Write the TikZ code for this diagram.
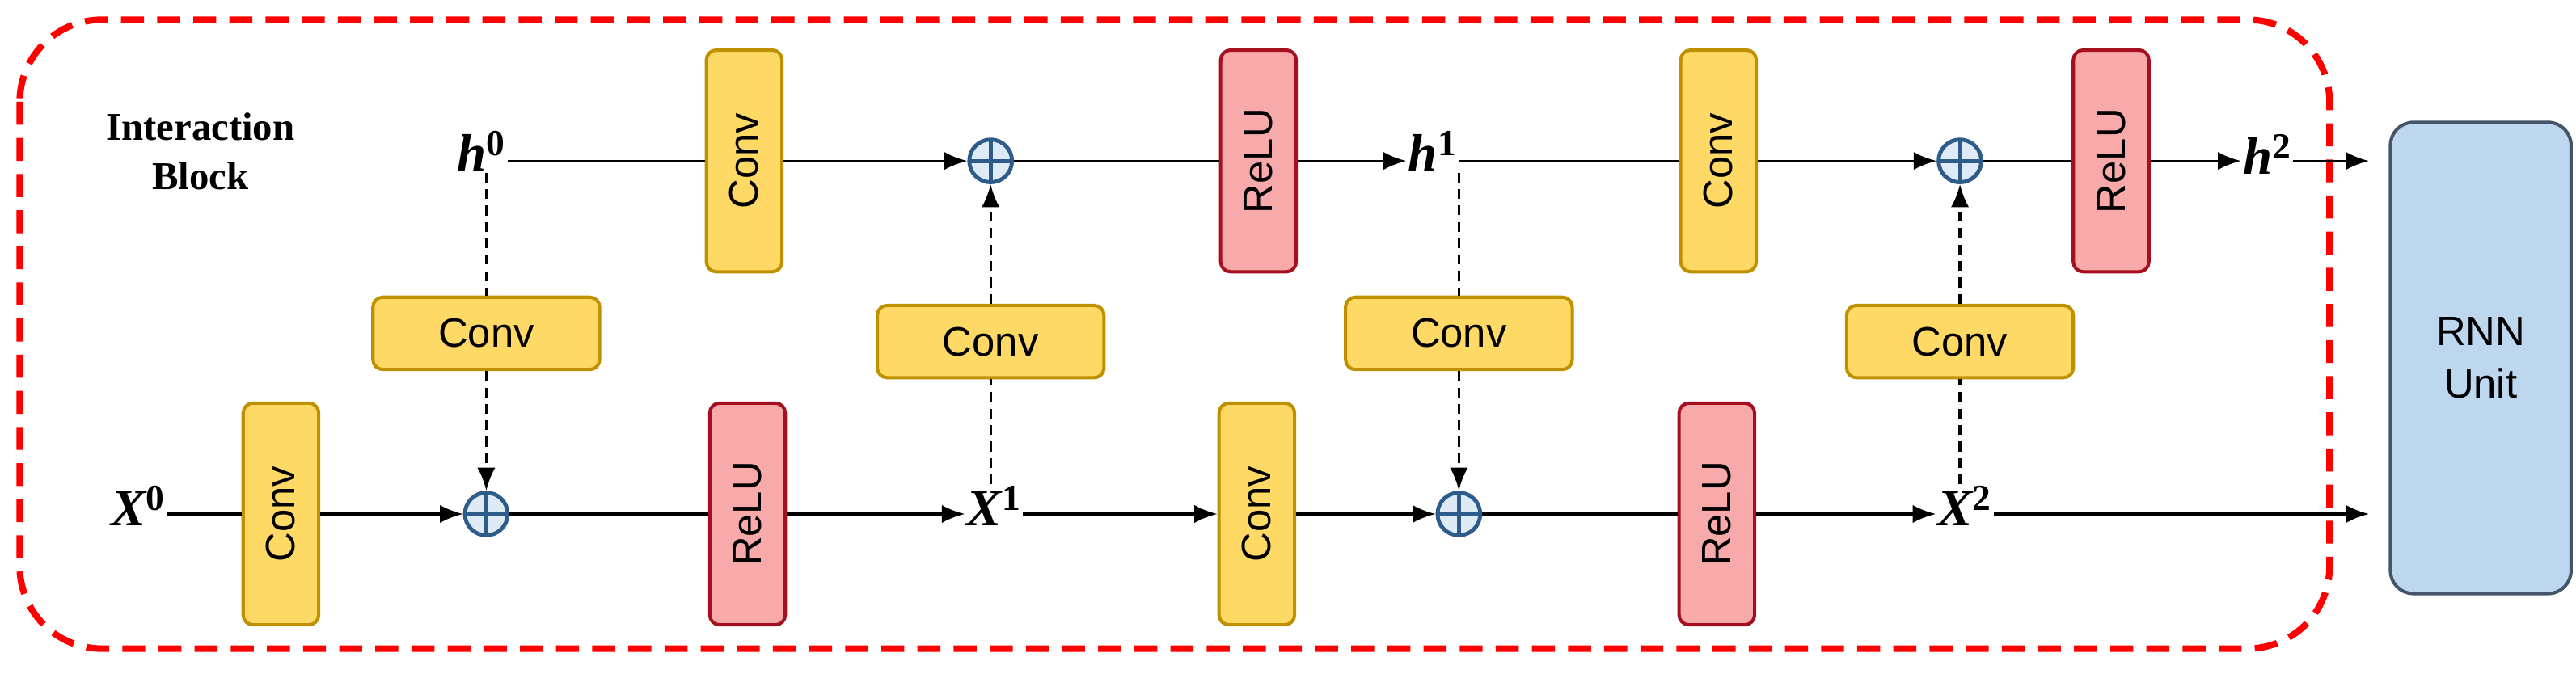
\documentclass[tikz,border=0pt]{standalone}
\usepackage{fontspec}
\setmainfont{Liberation Serif}
\newfontfamily\sansf{Liberation Sans}
\usetikzlibrary{arrows.meta}
\definecolor{yfill}{HTML}{FFD966}
\definecolor{ydraw}{HTML}{BF9000}
\definecolor{rfill}{HTML}{F8A9A9}
\definecolor{rdraw}{HTML}{A50F1F}
\definecolor{pfill}{HTML}{DEEBF7}
\definecolor{pdraw}{HTML}{2E5C8A}
\definecolor{bfill}{HTML}{BDD7EE}
\definecolor{bdraw}{HTML}{44546A}
\begin{document}
\begin{tikzpicture}[x=1pt,y=-1pt,
  box/.style={draw, line width=2pt, rounded corners=6pt, inner sep=0pt, font=\sansf\fontsize{25}{28}\selectfont},
  conv/.style={box, fill=yfill, draw=ydraw},
  relu/.style={box, fill=rfill, draw=rdraw},
  vbox/.style={minimum width=135pt, minimum height=46pt, rotate=90},
  hbox/.style={minimum width=138pt, minimum height=44pt},
  plus/.style={circle, draw=pdraw, fill=pfill, line width=2.4pt, minimum size=26pt, inner sep=0pt,
     path picture={\draw[pdraw,line width=2.4pt] (path picture bounding box.north)--(path picture bounding box.south) (path picture bounding box.west)--(path picture bounding box.east);}},
  lbl/.style={font=\fontsize{32}{36}\selectfont\bfseries\itshape, inner sep=1pt},
  ln/.style={line width=1.6pt},
  ar/.style={ln, -{Latex[length=14pt,width=11pt]}},
  dar/.style={ar, dash pattern=on 6pt off 4pt},
  dl/.style={ln, dash pattern=on 6pt off 4pt}]
\useasboundingbox (0,0) rectangle (1568,410);
\draw[red, line width=4pt, dash pattern=on 14pt off 8pt, rounded corners=50pt] (12,12) rectangle (1418,395);
\node[font=\fontsize{24}{30}\selectfont\bfseries, align=center] (title) at (122,92) {Interaction\\Block};
% top row
\node[lbl] (h0) at (293,92) {h\textsuperscript{\upshape 0}};
\node[conv,vbox] (c1) at (453,98) {Conv};
\node[plus] (p1) at (603,98) {};
\node[relu,vbox] (r1) at (766,98) {ReLU};
\node[lbl] (h1) at (872,92) {h\textsuperscript{\upshape 1}};
\node[conv,vbox] (c2) at (1046,98) {Conv};
\node[plus] (p2) at (1193,98) {};
\node[relu,vbox] (r2) at (1285,98) {ReLU};
\node[lbl] (h2) at (1380,94) {h\textsuperscript{\upshape 2}};
\coordinate (e1) at (1442,98);
% bottom row
\node[lbl] (x0) at (84,308) {X\textsuperscript{\upshape 0}};
\node[conv,vbox] (c3) at (171,313) {Conv};
\node[plus] (p3) at (296,313) {};
\node[relu,vbox] (r3) at (455,313) {ReLU};
\node[lbl] (x1) at (605,308) {X\textsuperscript{\upshape 1}};
\node[conv,vbox] (c4) at (765,313) {Conv};
\node[plus] (p4) at (888,313) {};
\node[relu,vbox] (r4) at (1045,313) {ReLU};
\node[lbl] (x2) at (1196,308) {X\textsuperscript{\upshape 2}};
\coordinate (e2) at (1442,313);
% middle convs
\node[conv,hbox] (m1) at (296,203) {Conv};
\node[conv,hbox] (m2) at (603,208) {Conv};
\node[conv,hbox] (m3) at (888,203) {Conv};
\node[conv,hbox] (m4) at (1193,208) {Conv};
% RNN
\node[box, fill=bfill, draw=bdraw, minimum width=110pt, minimum height=287pt, rounded corners=14pt, align=center, font=\sansf\fontsize{25}{32}\selectfont] (rnn) at (1510,218) {RNN\\Unit};
% connectors
\draw[ln] (h0.east |- p1) -- (c1);
\draw[ar] (c1) -- (p1);
\draw[ln] (p1) -- (r1);
\draw[ar] (r1) -- (h1.west |- p1);
\draw[ln] (h1.east |- p1) -- (c2);
\draw[ar] (c2) -- (p2);
\draw[ln] (p2) -- (r2);
\draw[ar] (r2) -- (h2.west |- p2);
\draw[ar] (h2.east |- p2) -- (e1);
\draw[ln] (x0.east |- p3) -- (c3);
\draw[ar] (c3) -- (p3);
\draw[ln] (p3) -- (r3);
\draw[ar] (r3) -- (x1.west |- p3);
\draw[ar] (x1.east |- p3) -- (c4);
\draw[ar] (c4) -- (p4);
\draw[ln] (p4) -- (r4);
\draw[ar] (r4) -- (x2.west |- p4);
\draw[ar] (x2.east |- p4) -- (e2);
\draw[dl] (h0.south -| m1) -- (m1);
\draw[dar] (m1) -- (p3);
\draw[dl] (x1.north -| m2) -- (m2);
\draw[dar] (m2) -- (p1);
\draw[dl] (h1.south -| m3) -- (m3);
\draw[dar] (m3) -- (p4);
\draw[dl] (x2.north -| m4) -- (m4);
\draw[dar] (m4) -- (p2);
\end{tikzpicture}
\end{document}
